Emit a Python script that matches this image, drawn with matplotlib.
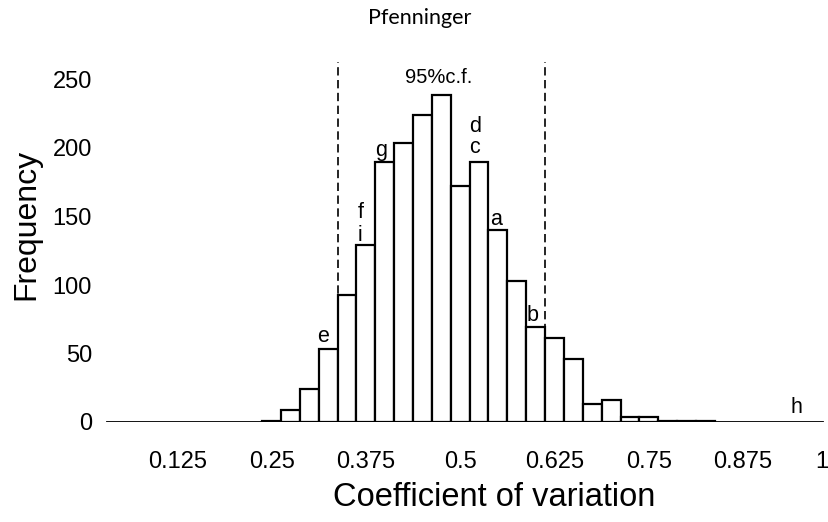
import matplotlib
matplotlib.use('Agg')
import matplotlib.pyplot as plt

# histogram of coefficient of variation (bin width 0.025)
bin_centers = [0.25, 0.275, 0.3, 0.325, 0.35, 0.375, 0.4, 0.425, 0.45, 0.475,
               0.5, 0.525, 0.55, 0.575, 0.6, 0.625, 0.65, 0.675, 0.7, 0.725,
               0.75, 0.775, 0.8, 0.825]
counts = [1, 9, 24, 53, 93, 129, 190, 204, 224, 239,
          172, 190, 140, 103, 69, 61, 46, 13, 16, 4,
          4, 1, 1, 1]
bin_width = 0.025

# 95% confidence limits
ci_limits = [0.3375, 0.6125]
ci_top = 263

# sample markers
marker_labels = ['e', 'f', 'i', 'g', 'd', 'c', 'a', 'b', 'h']
marker_x = [0.3187, 0.368, 0.3676, 0.3948, 0.5196, 0.5196, 0.5477, 0.5965, 0.9454]
marker_y = [58.4, 148.9, 132.3, 194.5, 211.9, 196.6, 143.8, 73.9, 6.3]

# last label sits at the right edge of the picture in the original
xticks = [0.125, 0.25, 0.375, 0.5, 0.625, 0.75, 0.875, 0.98]
xticklabels = ['0.125', '0.25', '0.375', '0.5', '0.625', '0.75', '0.875', '1']
yticks = [0, 50, 100, 150, 200, 250]

W, H = 829, 522
fig = plt.figure(figsize=(W / 100, H / 100), dpi=100)
plt.rcParams['font.family'] = ['Liberation Sans', 'DejaVu Sans']

x0, x1 = 0.02, 1.001
y0, y1 = 0, 270
px_per_x = 754.4
px_per_y = 1.37
left_px = 83 + px_per_x * x0
ax = fig.add_axes([left_px / W, 100 / H, px_per_x * (x1 - x0) / W, px_per_y * (y1 - y0) / H])
ax.set_xlim(x0, x1)
ax.set_ylim(y0, y1)
for s in ax.spines.values():
    s.set_visible(False)

ax.plot([0.0318, 0.981], [0, 0], color='black', linewidth=1.3, zorder=1)
ax.bar(bin_centers, counts, width=bin_width, color='white', edgecolor='black',
       linewidth=1.6, zorder=2)

for xv in ci_limits:
    ax.plot([xv, xv], [0, ci_top], color='black', linewidth=1.2,
            dashes=(5, 2.7), zorder=1)
ax.text(0.4719, 247.2, '95%c.f.', ha='center', va='baseline', fontsize=14.5)

for lab, xv, yv in zip(marker_labels, marker_x, marker_y):
    ax.text(xv, yv, lab, ha='center', va='baseline', fontsize=15.5)

ax.set_xticks(xticks)
ax.set_xticklabels(xticklabels)
ax.set_yticks(yticks)
ax.tick_params(axis='both', length=0, labelsize=17)
ax.tick_params(axis='x', pad=21)
ax.tick_params(axis='y', pad=4.4)

fig.text(26.5 / W, 1 - 224 / H, 'Frequency', rotation=90, ha='center',
         va='center', fontsize=23)
fig.text(494 / W, 1 - 506 / H, 'Coefficient of variation', ha='center',
         va='baseline', fontsize=23.5)
fig.text(420 / W, 1 - 24 / H, 'Pfenninger', ha='center', va='baseline',
         fontsize=15.5, family=['Lato', 'DejaVu Sans'])

fig.savefig('out.png', dpi=100)
